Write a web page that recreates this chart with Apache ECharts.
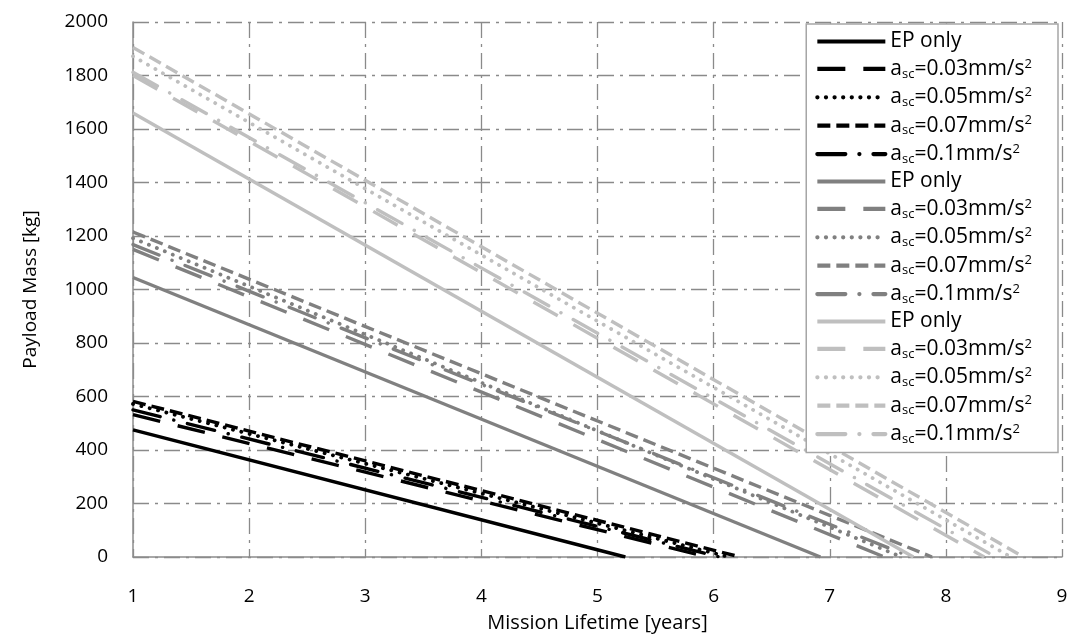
<!DOCTYPE html>
<html><head><meta charset="utf-8">
<script src="https://cdn.jsdelivr.net/npm/echarts@6/dist/echarts.min.js"></script>
<style>html,body{margin:0;padding:0;background:#fff}#c{width:1074px;height:639px}</style>
</head><body><div id="c"></div>
<script>
// Series labels (text) and cases
const cases = ['EP only', '0.03', '0.05', '0.07', '0.1'];
const groupColors = ['#000000', '#808080', '#bfbfbf'];
// start payload at lifetime = 1 yr, and lifetime where payload reaches 0
const blackStart = [475, 532, 572, 582, 550];
const blackEnd   = [5.24, 5.95, 6.13, 6.23, 6.05];
const greyStart  = [1045, 1150, 1192, 1215, 1168];
const greyEnd    = [6.92, 7.47, 7.62, 7.88, 7.7];
const lightStart = [1660, 1800, 1872, 1905, 1812];
const lightEnd   = [7.72, 8.33, 8.56, 8.67, 8.43];
const xTicks = [1,2,3,4,5,6,7,8,9];
const yTicks = [0,200,400,600,800,1000,1200,1400,1600,1800,2000];

const dashes = ['solid', [28, 18], [0.1, 8.5], [13, 6], [28, 14, 0.1, 14]];
const groups = [
  {color: groupColors[0], start: blackStart, end: blackEnd},
  {color: groupColors[1], start: greyStart, end: greyEnd},
  {color: groupColors[2], start: lightStart, end: lightEnd}
];
const series = [];
const legendData = [];
groups.forEach((g, gi) => {
  cases.forEach((c, ci) => {
    const name = c + '#' + gi;
    legendData.push(name);
    series.push({
      name: name, type: 'line', symbol: 'none', showSymbol: false, silent: true,
      data: [[1, g.start[ci]], [g.end[ci], 0]],
      lineStyle: {color: g.color, width: ci === 2 ? 3.8 : 3.4, type: dashes[ci], cap: ci === 2 || ci === 4 ? 'round' : 'butt'},
      itemStyle: {color: g.color}
    });
  });
});

const chart = echarts.init(document.getElementById('c'));
const FONT = 'Open Sans';
chart.setOption({
  animation: false,
  textStyle: {fontFamily: FONT},
  grid: {left: 133, right: 12, top: 22, bottom: 82},
  xAxis: {
    type: 'value', min: 1, max: 9, interval: 1,
    name: 'Mission Lifetime [years]', nameLocation: 'middle', nameGap: 56,
    nameTextStyle: {fontSize: 20, color: '#000', fontFamily: FONT},
    axisLabel: {fontSize: 19, color: '#000', margin: 30, fontFamily: FONT},
    axisLine: {lineStyle: {color: '#8c8c8c', width: 1.5}},
    axisTick: {show: false},
    splitLine: {show: true, lineStyle: {color: '#8a8a8a', width: 1.3, type: [16, 6, 3, 6]}}
  },
  yAxis: {
    type: 'value', min: 0, max: 2000, interval: 200,
    name: 'Payload Mass [kg]', nameLocation: 'middle', nameGap: 93,
    nameTextStyle: {fontSize: 19, color: '#000', fontFamily: FONT},
    axisLabel: {fontSize: 19, color: '#000', margin: 25, fontFamily: FONT, formatter: v => String(v)},
    axisLine: {show: true, lineStyle: {color: '#8c8c8c', width: 1.5}},
    axisTick: {show: false},
    splitLine: {show: true, lineStyle: {color: '#8a8a8a', width: 1.3, type: [16, 6, 3, 6]}}
  },
  legend: {
    data: legendData,
    orient: 'vertical', right: 16, top: 24,
    backgroundColor: '#fff', borderColor: '#a6a6a6', borderWidth: 1.5,
    padding: [7, 26, 7, 9],
    itemWidth: 68, itemHeight: 12, itemGap: 5.4,
    selectedMode: false,
    itemStyle: {opacity: 0},
    lineStyle: {width: 4.2},
    formatter: function (n) {
      const c = n.split('#')[0];
      if (c === 'EP only') return '{t|EP only}';
      return '{t|a}{sub|sc}{t|=' + c + 'mm/s}{sup|2}';
    },
    textStyle: {
      fontFamily: FONT, fontSize: 21, color: '#000',
      rich: {
        t: {fontSize: 21, fontFamily: FONT, color: '#000', lineHeight: 20},
        sub: {fontSize: 13, fontFamily: FONT, color: '#000', padding: [10, 0, 0, 0], lineHeight: 20},
        sup: {fontSize: 13, fontFamily: FONT, color: '#000', padding: [0, 0, 10, 0], lineHeight: 20}
      }
    }
  },
  series: series
});
</script></body></html>
